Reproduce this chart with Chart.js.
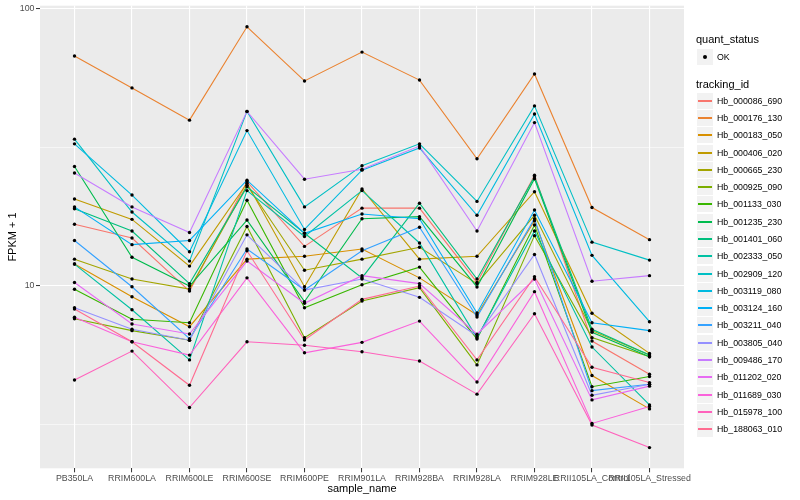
<!DOCTYPE html>
<html>
<head>
<meta charset="utf-8">
<script src="https://cdn.jsdelivr.net/npm/chart.js@4"></script>
<style>
    html, body { margin: 0; padding: 0; background: #fff; }
    #wrap { position: relative; width: 800px; height: 500px; font-family: "Liberation Sans", Arial, sans-serif; }
    #chart { position: absolute; left: 0; top: 0; }
    .legend-title { position: absolute; left: 696px; font-size: 11px; line-height: 13px; color: #000; white-space: nowrap; }
    .key { position: absolute; left: 697px; width: 16px; height: 16px; background: #F2F2F2; }
    .key .line { position: absolute; left: 1px; width: 14px; top: 7px; height: 2px; }
    .key .dot { position: absolute; left: 6px; top: 6px; width: 4px; height: 4px; border-radius: 50%; background: #000; }
    .label { position: absolute; left: 717px; font-size: 8.8px; line-height: 10px; color: #000; white-space: nowrap; }
</style>
</head>
<body>
<div id="wrap">
    <canvas id="chart" width="800" height="500"></canvas>
    <div id="legend"></div>
</div>
<script>
// Categories (x axis)
const sampleNames = ['PB350LA', 'RRIM600LA', 'RRIM600LE', 'RRIM600SE', 'RRIM600PE', 'RRIM901LA',
    'RRIM928BA', 'RRIM928LA', 'RRIM928LE', 'RRII105LA_Control', 'RRII105LA_Stressed'];

// tracking_id levels, in legend order
const trackingIds = ['Hb_000086_690', 'Hb_000176_130', 'Hb_000183_050', 'Hb_000406_020', 'Hb_000665_230',
    'Hb_000925_090', 'Hb_001133_030', 'Hb_001235_230', 'Hb_001401_060', 'Hb_002333_050',
    'Hb_002909_120', 'Hb_003119_080', 'Hb_003124_160', 'Hb_003211_040', 'Hb_003805_040',
    'Hb_009486_170', 'Hb_011202_020', 'Hb_011689_030', 'Hb_015978_100', 'Hb_188063_010'];

// FPKM + 1 per tracking_id
const hb000086_690 = [16.7, 14.9, 9.59, 23.8, 13.9, 19.1, 19.1, 10.3, 25.1, 6.33, 4.80];
const hb000176_130 = [67.7, 51.9, 39.7, 86.3, 55.0, 69.9, 55.4, 28.8, 58.3, 19.2, 14.7];
const hb000183_050 = [12.0, 9.15, 7.13, 12.5, 12.8, 13.6, 10.7, 7.86, 17.2, 4.75, 3.60];
const hb000406_020 = [20.6, 17.4, 11.8, 23.5, 9.94, 22.4, 12.5, 12.8, 21.9, 7.97, 5.71];
const hb000665_230 = [12.5, 10.6, 9.75, 23.1, 11.4, 12.5, 13.8, 10.2, 18.0, 6.90, 5.63];
const hb000925_090 = [7.62, 6.90, 6.37, 16.4, 6.51, 8.83, 9.86, 5.19, 15.2, 6.51, 5.55];
const hb001133_030 = [9.73, 7.58, 7.37, 20.4, 8.35, 10.1, 11.7, 6.44, 16.6, 4.33, 4.71];
const hb001235_230 = [27.0, 12.7, 10.0, 17.3, 8.78, 17.5, 17.8, 9.92, 24.4, 6.81, 5.55];
const hb001401_060 = [19.0, 15.8, 10.2, 22.8, 15.5, 10.7, 19.9, 10.6, 24.8, 6.98, 5.63];
const hb002333_050 = [12.0, 8.21, 5.41, 22.1, 15.1, 22.1, 14.3, 6.50, 15.8, 6.02, 3.72];
const hb002909_120 = [33.9, 18.5, 12.3, 42.7, 19.3, 27.2, 32.6, 20.2, 44.7, 14.4, 12.4];
const hb003119_080 = [32.6, 21.3, 13.3, 36.4, 16.0, 26.2, 31.5, 18.0, 41.8, 12.9, 7.43];
const hb003124_160 = [19.3, 14.1, 14.6, 24.1, 15.5, 18.2, 17.5, 7.99, 18.8, 7.37, 6.90];
const hb003211_040 = [14.6, 9.94, 6.45, 13.6, 9.67, 13.4, 16.3, 7.73, 17.5, 4.19, 4.42];
const hb003805_040 = [8.35, 6.98, 6.37, 15.3, 9.67, 10.6, 9.10, 6.60, 13.0, 4.03, 4.42];
const hb009486_170 = [25.6, 19.3, 15.6, 42.7, 24.3, 26.4, 32.0, 15.8, 38.9, 10.4, 10.9];
const hb011202_020 = [10.3, 7.29, 6.71, 12.3, 8.66, 10.9, 10.2, 6.70, 10.6, 3.88, 4.35];
const hb011689_030 = [7.71, 6.29, 5.63, 10.7, 5.74, 6.26, 7.47, 4.50, 9.54, 3.19, 3.67];
const hb015978_100 = [4.58, 5.82, 3.64, 6.29, 6.11, 5.79, 5.36, 4.07, 7.94, 3.15, 2.61];
const hb188063_010 = [8.26, 6.29, 4.38, 13.4, 6.38, 8.95, 10.0, 5.41, 10.8, 5.09, 4.48];

const fpkm = [hb000086_690, hb000176_130, hb000183_050, hb000406_020, hb000665_230,
    hb000925_090, hb001133_030, hb001235_230, hb001401_060, hb002333_050,
    hb002909_120, hb003119_080, hb003124_160, hb003211_040, hb003805_040,
    hb009486_170, hb011202_020, hb011689_030, hb015978_100, hb188063_010];

// y axis breaks
const yBreaks = [10, 100];
const yMinorBreaks = [3.1623, 31.623];

// ggplot hue palette for 20 levels
const palette = ['#F8766D', '#EA8331', '#D89000', '#C09B00', '#A3A500', '#7CAE00', '#39B600', '#00BB4E',
    '#00BF7D', '#00C1A3', '#00BFC4', '#00BAE0', '#00B0F6', '#35A2FF', '#9590FF', '#C77CFF',
    '#E76BF3', '#FA62DB', '#FF62BC', '#FF6C91'];

const FONT = '"Liberation Sans", Arial, sans-serif';

document.addEventListener('DOMContentLoaded', () => {
    buildChart();
    buildLegend();
});

function buildChart() {
    const lineSets = fpkm.map((vals, i) => ({
        type: 'line',
        label: trackingIds[i],
        data: vals.map((v, j) => ({ x: j, y: v })),
        borderColor: palette[i],
        borderWidth: 1.1,
        pointRadius: 0,
        fill: false,
        tension: 0,
        order: 100 - i
    }));

    // black points on top of every line
    const allPoints = [];
    fpkm.forEach(vals => vals.forEach((v, j) => allPoints.push({ x: j, y: v })));
    const pointSet = {
        type: 'scatter',
        label: 'OK',
        data: allPoints,
        backgroundColor: '#000',
        borderWidth: 0,
        pointRadius: 1.7,
        showLine: false,
        order: 0
    };

    // grey ggplot panel
    const panelBg = {
        id: 'panelBg',
        beforeDraw(chart) {
            const { ctx, chartArea: a } = chart;
            ctx.save();
            ctx.fillStyle = '#EBEBEB';
            ctx.fillRect(a.left, a.top, a.right - a.left, a.bottom - a.top);
            ctx.restore();
        }
    };

    const isMajor = ctx => ctx.tick && yBreaks.includes(ctx.tick.value);

    new Chart(document.getElementById('chart'), {
        data: { datasets: [...lineSets, pointSet] },
        options: {
            responsive: false,
            animation: false,
            events: [],
            layout: { padding: { left: 0, right: 116, top: 5.7, bottom: 0 } },
            plugins: { legend: { display: false }, tooltip: { enabled: false } },
            scales: {
                x: {
                    type: 'linear',
                    min: -0.6,
                    max: 10.6,
                    bounds: 'data',
                    afterBuildTicks: s => { s.ticks = sampleNames.map((_, i) => ({ value: i })); },
                    afterFit: s => { s.height = 31.7; s.paddingLeft = 0; s.paddingRight = 0; },
                    ticks: {
                        autoSkip: false,
                        maxRotation: 0,
                        padding: 1,
                        color: '#4D4D4D',
                        font: { family: FONT, size: 8.8 },
                        callback: v => sampleNames[v]
                    },
                    grid: { color: '#FFFFFF', lineWidth: 1.1, tickColor: '#333333', tickLength: 4, tickWidth: 1 },
                    border: { display: false },
                    title: {
                        display: true,
                        text: 'sample_name',
                        color: '#000',
                        font: { family: FONT, size: 11 },
                        padding: { top: 0, bottom: 4.4 }
                    }
                },
                y: {
                    type: 'logarithmic',
                    min: 2.197,
                    max: 102.8,
                    bounds: 'data',
                    afterBuildTicks: s => {
                        s.ticks = [...yMinorBreaks, ...yBreaks].sort((a, b) => a - b).map(v => ({ value: v }));
                    },
                    afterFit: s => { s.width = 40; s.paddingTop = 0; s.paddingBottom = 0; },
                    ticks: {
                        padding: 1.5,
                        color: '#4D4D4D',
                        font: { family: FONT, size: 8.8 },
                        callback: v => (yBreaks.includes(v) ? String(v) : '')
                    },
                    grid: {
                        color: '#FFFFFF',
                        lineWidth: ctx => (isMajor(ctx) ? 1.1 : 0.55),
                        tickColor: ctx => (isMajor(ctx) ? '#333333' : 'rgba(0,0,0,0)'),
                        tickLength: 4,
                        tickWidth: 1
                    },
                    border: { display: false },
                    title: {
                        display: true,
                        text: 'FPKM + 1',
                        color: '#000',
                        font: { family: FONT, size: 11 },
                        padding: { top: 6, bottom: 0 }
                    }
                }
            }
        },
        plugins: [panelBg]
    });
}

function buildLegend() {
    const legend = document.getElementById('legend');
    const step = 17.29;
    let html = '';

    html += `<div class="legend-title" style="top:33px">quant_status</div>`;
    html += `<div class="key" style="top:49px"><span class="dot"></span></div>`;
    html += `<div class="label" style="top:52px">OK</div>`;

    html += `<div class="legend-title" style="top:78px">tracking_id</div>`;
    trackingIds.forEach((id, i) => {
        const cy = 100.7 + i * step;
        const top = Math.round(cy - 8);
        html += `<div class="key" style="top:${top}px"><span class="line" style="background:${palette[i]}"></span></div>`;
        html += `<div class="label" style="top:${top + 3}px">${id}</div>`;
    });

    legend.innerHTML = html;
}
</script>
</body>
</html>
